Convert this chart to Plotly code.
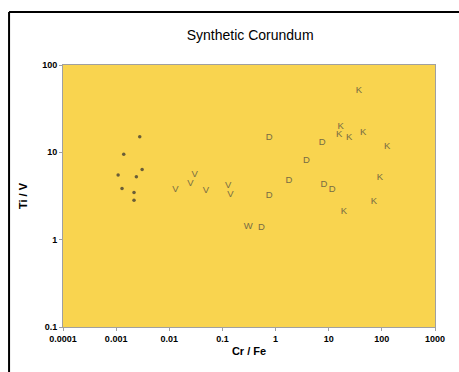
import plotly.graph_objects as go

# Data
dot_x = [0.00109, 0.00129, 0.00139, 0.00217, 0.00217, 0.0024, 0.00278, 0.00308]
dot_y = [5.5, 3.85, 9.5, 3.47, 2.83, 5.25, 15.1, 6.37]

v_x = [0.0131, 0.025, 0.0302, 0.0487, 0.128, 0.142]
v_y = [3.79, 4.33, 5.62, 3.6, 4.14, 3.32]

w_x = [0.305]
w_y = [1.40]

d_x = [0.543, 0.757, 0.757, 1.78, 3.83, 7.55, 8.1, 11.6]
d_y = [1.38, 14.8, 3.18, 4.72, 8.0, 13.0, 4.29, 3.76]

k_x = [37, 16.7, 15.8, 24.3, 44.7, 126, 92, 71, 19.3]
k_y = [50.8, 19.6, 16.0, 14.6, 16.9, 11.6, 5.15, 2.76, 2.08]

x_tickvals = [0.0001, 0.001, 0.01, 0.1, 1, 10, 100, 1000]
x_ticktext = ["0.0001", "0.001", "0.01", "0.1", "1", "10", "100", "1000"]
y_tickvals = [0.1, 1, 10, 100]
y_ticktext = ["0.1", "1", "10", "100"]

letter_color = "#776c44"
letter_font = dict(family="Arial, Liberation Sans, sans-serif", size=9.5, color=letter_color)

fig = go.Figure()
fig.add_trace(go.Scatter(x=dot_x, y=dot_y, mode="markers",
                         marker=dict(size=3.5, color="#6a5e38", symbol="circle"),
                         showlegend=False, hoverinfo="skip"))
for xs, ys, ch in [(v_x, v_y, "V"), (w_x, w_y, "W"), (d_x, d_y, "D"), (k_x, k_y, "K")]:
    fig.add_trace(go.Scatter(x=xs, y=ys, mode="text", text=[ch] * len(xs),
                             textposition="middle center", textfont=letter_font,
                             showlegend=False, hoverinfo="skip"))

tick_font = dict(family="Arial, Liberation Sans, sans-serif", size=9, color="#000", weight="bold")

fig.update_layout(
    width=459, height=372,
    margin=dict(l=63, r=24, t=65, b=45),
    paper_bgcolor="white",
    plot_bgcolor="#f9d44f",
    title=dict(text="Synthetic Corundum", x=0.545, xanchor="center", y=0.906, yanchor="middle",
               font=dict(family="Arial, Liberation Sans, sans-serif", size=14, color="#000")),
    xaxis=dict(type="log", range=[-4, 3], tickvals=x_tickvals, ticktext=x_ticktext,
               showgrid=False, zeroline=False, showline=True, linecolor="#a0a0a0", linewidth=1,
               mirror=True, ticks="outside", ticklen=3, tickcolor="#a0a0a0",
               tickfont=tick_font,
               title=dict(text="<b>Cr / Fe</b>", standoff=4,
                          font=dict(family="Arial, Liberation Sans, sans-serif", size=11, color="#000"))),
    yaxis=dict(type="log", range=[-1, 2], tickvals=y_tickvals, ticktext=y_ticktext,
               showgrid=False, zeroline=False, showline=True, linecolor="#a0a0a0", linewidth=1,
               mirror=True, ticks="outside", ticklen=3, tickcolor="#a0a0a0",
               tickfont=tick_font,
               title=dict(text="<b>Ti / V</b>", standoff=12,
                          font=dict(family="Arial, Liberation Sans, sans-serif", size=11, color="#000"))),
    shapes=[
        dict(type="line", xref="paper", yref="paper", x0=-0.145, x1=1.1, y0=1.202, y1=1.202,
             line=dict(color="black", width=2)),
        dict(type="line", xref="paper", yref="paper", x0=-0.145, x1=-0.145, y0=1.202, y1=-0.2,
             line=dict(color="black", width=2)),
    ],
)

fig.write_html("out.html")
